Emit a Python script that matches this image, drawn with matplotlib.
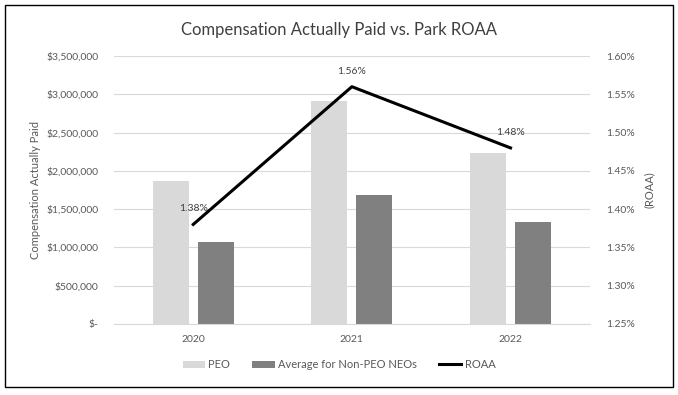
import matplotlib.pyplot as plt
import numpy as np
from matplotlib.patches import Rectangle
from matplotlib.ticker import FuncFormatter

plt.rcParams["font.family"] = ["Lato", "DejaVu Sans"]

years = ["2020", "2021", "2022"]
peo = [1870000, 2915000, 2235000]
non_peo = [1072000, 1688000, 1333000]
roaa = [1.38, 1.56, 1.48]

grey_txt = "#595959"


def money(v, _):
    return "$-" if v == 0 else f"${v:,.0f}"


fig = plt.figure(figsize=(6.78, 3.95), dpi=100)
ax = fig.add_axes([0.168, 0.180, 0.702, 0.678])
ax2 = ax.twinx()

x = np.arange(len(years))
w = 0.227
ax.bar(x - 0.142, peo, w, color="#d9d9d9", label="PEO", zorder=2)
ax.bar(x + 0.142, non_peo, w, color="#808080", label="Average for Non-PEO NEOs", zorder=2)

ax.set_xlim(-0.5, 2.5)
ax.set_ylim(0, 3500000)
ax.set_yticks(np.arange(0, 3500001, 500000))
ax.yaxis.set_major_formatter(FuncFormatter(money))
ax.set_xticks(x)
ax.set_xticklabels(years)
ax.grid(axis="y", color="#d9d9d9", lw=0.8, zorder=0)
ax.set_axisbelow(True)
ax.set_ylabel("Compensation Actually Paid", color=grey_txt, fontsize=8, labelpad=4)

line, = ax2.plot(x, roaa, color="black", lw=2.2, label="ROAA", zorder=3)
ax2.set_ylim(1.25, 1.60)
ax2.set_yticks(np.arange(1.25, 1.601, 0.05))
ax2.yaxis.set_major_formatter(FuncFormatter(lambda v, _: f"{v:.2f}%"))
ax2.set_ylabel("(ROAA)", color=grey_txt, fontsize=8, labelpad=6)
for xi, v in zip(x, roaa):
    ax2.annotate(f"{v:.2f}%", (xi, v), xytext=(0, 8), textcoords="offset points",
                 ha="center", va="bottom", fontsize=7.5, color="#404040", clip_on=False)

for a in (ax, ax2):
    for s in a.spines.values():
        s.set_visible(False)
    a.tick_params(length=0, labelsize=7.5, colors=grey_txt)
ax.spines["bottom"].set_visible(True)
ax.spines["bottom"].set_color("#d9d9d9")
ax.tick_params(axis="x", pad=8)
ax.tick_params(axis="y", pad=11)
ax2.tick_params(axis="y", pad=12)

fig.suptitle("Compensation Actually Paid vs. Park ROAA", y=0.945, fontsize=12, color="#404040")

handles = ax.get_legend_handles_labels()[0] + [line]
fig.legend(handles, ["PEO", "Average for Non-PEO NEOs", "ROAA"], loc="center",
           bbox_to_anchor=(0.5, 0.077), ncol=3, frameon=False, fontsize=8,
           labelcolor=grey_txt, handlelength=2.0, handleheight=0.6, columnspacing=2.0,
           handletextpad=0.3)

fig.add_artist(Rectangle((0.008, 0.02), 0.984, 0.967, transform=fig.transFigure,
                         fill=False, edgecolor="black", lw=1))

fig.savefig("out.png", dpi=100)
